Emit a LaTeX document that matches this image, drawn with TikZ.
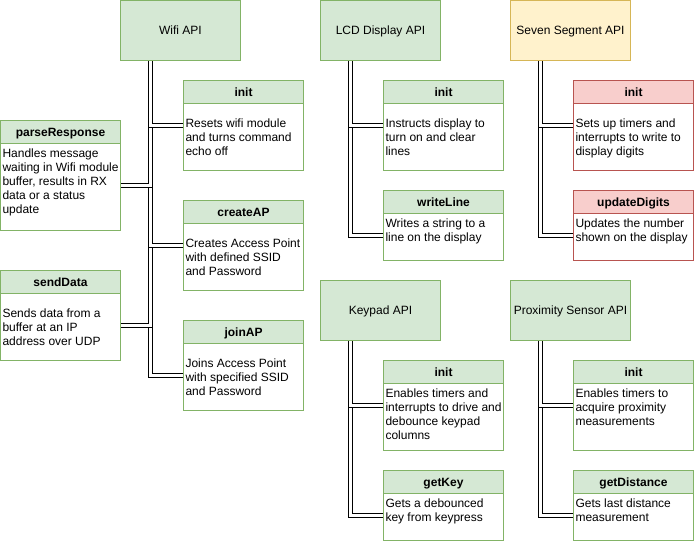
\documentclass[tikz,border=0pt]{standalone}
\usepackage{fontspec}
\setmainfont{Liberation Sans}
\usetikzlibrary{positioning,backgrounds}
\definecolor{grfill}{HTML}{D5E8D4}
\definecolor{grline}{HTML}{82B366}
\definecolor{yefill}{HTML}{FFF2CC}
\definecolor{yeline}{HTML}{D6B656}
\definecolor{refill}{HTML}{F8CECC}
\definecolor{reline}{HTML}{B85450}
\begin{document}
\begin{tikzpicture}[x=1pt, y=-1pt,
    every node/.style={font=\fontsize{12}{14}\selectfont, inner sep=0pt, outer sep=0pt},
    api/.style={draw=#1line, fill=#1fill, line width=1pt, anchor=north west,
        minimum width=120pt, minimum height=60pt, text height=8.6pt, text depth=0pt},
    api/.default=gr,
    fn/.style={draw=#1line, fill=white, line width=1pt, anchor=north west, minimum width=120pt},
    fn/.default=gr,
    head/.style={draw=#1line, fill=#1fill, line width=1pt, anchor=north west,
        minimum width=120pt, minimum height=23pt, text height=8.6pt, text depth=0pt,
        font=\fontsize{12}{14}\selectfont\bfseries},
    head/.default=gr,
    desc/.style={align=left, execute at begin node=\strut},
    link/.style={double, double distance=3pt, line width=1pt}]
\useasboundingbox (-0.5,-0.5) rectangle (693.5,540.5);

% API blocks
\node[api] (wifi) at (120,0) {Wifi API};
\node[api] (lcd) at (320,0) {LCD Display API};
\node[api=ye] (seven) at (510,0) {Seven Segment API};
\node[api] (keypad) at (320,280) {Keypad API};
\node[api] (prox) at (510,280) {Proximity Sensor API};

% Wifi functions
\node[fn, minimum height=90pt] (wifiinit) at (183,80) {};
\node[head] (wifiinit-h) at (wifiinit.north west) {init};
\node[desc, below right=15.7pt and 2pt of wifiinit-h.south west] (wifiinit-t) {Resets wifi module\\and turns command\\echo off};

\node[fn, minimum height=110pt] (parse) at (0,120) {};
\node[head] (parse-h) at (parse.north west) {parseResponse};
\node[desc, below right=5.7pt and 2pt of parse-h.south west] (parse-t) {Handles message\\waiting in Wifi module\\buffer, results in RX\\data or a status\\update};

\node[fn, minimum height=90pt] (createap) at (183,200) {};
\node[head] (createap-h) at (createap.north west) {createAP};
\node[desc, below right=15.7pt and 2pt of createap-h.south west] (createap-t) {Creates Access Point\\with defined SSID\\and Password};

\node[fn, minimum height=90pt] (senddata) at (0,270) {};
\node[head] (senddata-h) at (senddata.north west) {sendData};
\node[desc, below right=15.7pt and 2pt of senddata-h.south west] (senddata-t) {Sends data from a\\buffer at an IP\\address over UDP};

\node[fn, minimum height=90pt] (joinap) at (183,320) {};
\node[head] (joinap-h) at (joinap.north west) {joinAP};
\node[desc, below right=15.7pt and 2pt of joinap-h.south west] (joinap-t) {Joins Access Point\\with specified SSID\\and Password};

% LCD functions
\node[fn, minimum height=90pt] (lcdinit) at (383,80) {};
\node[head] (lcdinit-h) at (lcdinit.north west) {init};
\node[desc, below right=15.7pt and 2pt of lcdinit-h.south west] (lcdinit-t) {Instructs display to\\turn on and clear\\lines};

\node[fn, minimum height=70pt] (writeline) at (383,190) {};
\node[head] (writeline-h) at (writeline.north west) {writeLine};
\node[desc, below right=5.7pt and 2pt of writeline-h.south west] (writeline-t) {Writes a string to a\\line on the display};

% Seven segment functions
\node[fn=re, minimum height=90pt] (seginit) at (573,80) {};
\node[head=re] (seginit-h) at (seginit.north west) {init};
\node[desc, below right=15.7pt and 2pt of seginit-h.south west] (seginit-t) {Sets up timers and\\interrupts to write to\\display digits};

\node[fn=re, minimum height=70pt] (updigits) at (573,190) {};
\node[head=re] (updigits-h) at (updigits.north west) {updateDigits};
\node[desc, below right=5.7pt and 2pt of updigits-h.south west] (updigits-t) {Updates the number\\shown on the display};

% Keypad functions
\node[fn, minimum height=90pt] (keyinit) at (383,360) {};
\node[head] (keyinit-h) at (keyinit.north west) {init};
\node[desc, below right=5.7pt and 2pt of keyinit-h.south west] (keyinit-t) {Enables timers and\\interrupts to drive and\\debounce keypad\\columns};

\node[fn, minimum height=70pt] (getkey) at (383,470) {};
\node[head] (getkey-h) at (getkey.north west) {getKey};
\node[desc, below right=5.7pt and 2pt of getkey-h.south west] (getkey-t) {Gets a debounced\\key from keypress};

% Proximity sensor functions
\node[fn, minimum height=90pt] (proxinit) at (573,360) {};
\node[head] (proxinit-h) at (proxinit.north west) {init};
\node[desc, below right=5.7pt and 2pt of proxinit-h.south west] (proxinit-t) {Enables timers to\\acquire proximity\\measurements};

\node[fn, minimum height=70pt] (getdist) at (573,470) {};
\node[head] (getdist-h) at (getdist.north west) {getDistance};
\node[desc, below right=5.7pt and 2pt of getdist-h.south west] (getdist-t) {Gets last distance\\measurement};

% links, deepest child first
\begin{scope}[on background layer]
\draw[link] ([xshift=30pt]wifi.south west) |- ([yshift=-10pt]joinap.west);
\draw[link] ([xshift=30pt]wifi.south west) |- ([yshift=-10pt]senddata.east);
\draw[link] ([xshift=30pt]wifi.south west) |- (createap.west);
\draw[link] ([xshift=30pt]wifi.south west) |- ([yshift=-10pt]parse.east);
\draw[link] ([xshift=30pt]wifi.south west) |- (wifiinit.west);

\draw[link] ([xshift=30pt]lcd.south west) |- ([yshift=-10pt]writeline.west);
\draw[link] ([xshift=30pt]lcd.south west) |- (lcdinit.west);

\draw[link] ([xshift=30pt]seven.south west) |- ([yshift=-10pt]updigits.west);
\draw[link] ([xshift=30pt]seven.south west) |- (seginit.west);

\draw[link] ([xshift=30pt]keypad.south west) |- ([yshift=-10pt]getkey.west);
\draw[link] ([xshift=30pt]keypad.south west) |- (keyinit.west);

\draw[link] ([xshift=30pt]prox.south west) |- ([yshift=-10pt]getdist.west);
\draw[link] ([xshift=30pt]prox.south west) |- (proxinit.west);
\end{scope}
\end{tikzpicture}
\end{document}
